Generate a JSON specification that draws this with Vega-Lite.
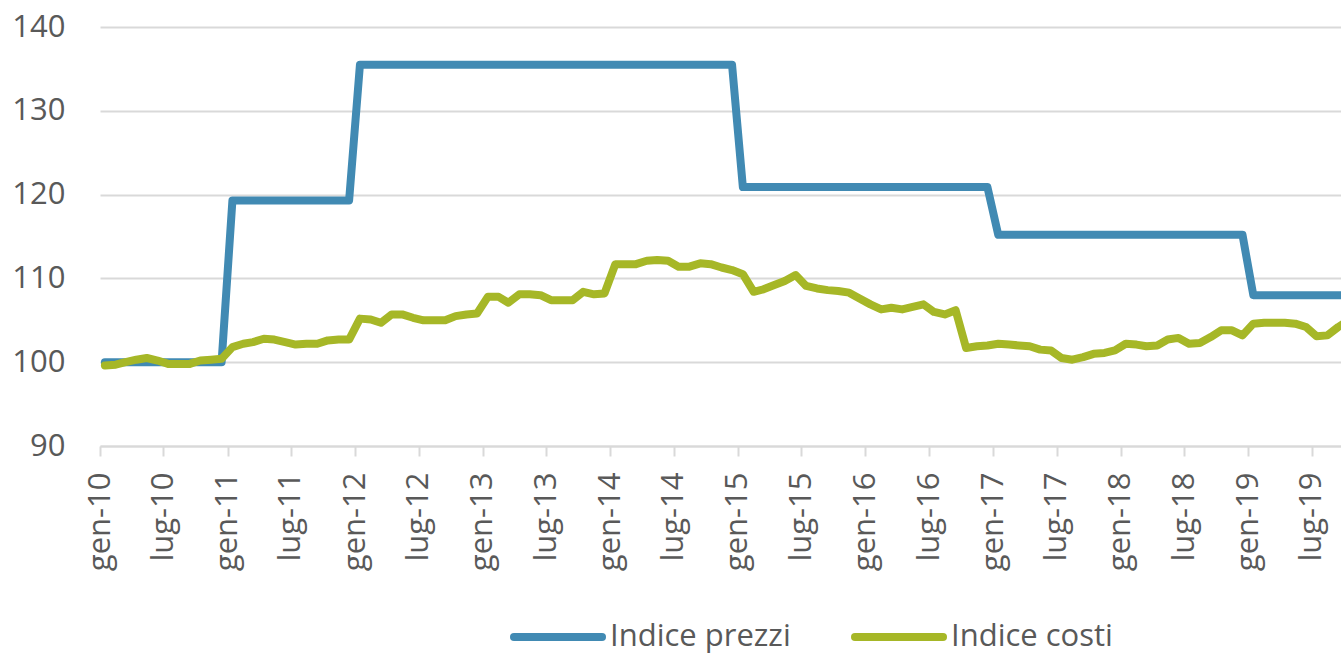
{
  "$schema": "https://vega.github.io/schema/vega-lite/v6.json",
  "width": 1241,
  "height": 419,
  "autosize": "none",
  "padding": {"left": 100, "top": 27, "right": 0, "bottom": 209},
  "config": {"view": {"stroke": null}, "font": "Open Sans"},
  "data": {"values": [
    {"d":"2010-01-15","Indice prezzi":100,"Indice costi":99.6},
    {"d":"2010-02-15","Indice prezzi":100,"Indice costi":99.7},
    {"d":"2010-03-15","Indice prezzi":100,"Indice costi":100.0},
    {"d":"2010-04-15","Indice prezzi":100,"Indice costi":100.3},
    {"d":"2010-05-15","Indice prezzi":100,"Indice costi":100.5},
    {"d":"2010-06-15","Indice prezzi":100,"Indice costi":100.2},
    {"d":"2010-07-15","Indice prezzi":100,"Indice costi":99.8},
    {"d":"2010-08-15","Indice prezzi":100,"Indice costi":99.8},
    {"d":"2010-09-15","Indice prezzi":100,"Indice costi":99.8},
    {"d":"2010-10-15","Indice prezzi":100,"Indice costi":100.2},
    {"d":"2010-11-15","Indice prezzi":100,"Indice costi":100.3},
    {"d":"2010-12-15","Indice prezzi":100,"Indice costi":100.4},
    {"d":"2011-01-15","Indice prezzi":119.3,"Indice costi":101.8},
    {"d":"2011-02-15","Indice prezzi":119.3,"Indice costi":102.2},
    {"d":"2011-03-15","Indice prezzi":119.3,"Indice costi":102.4},
    {"d":"2011-04-15","Indice prezzi":119.3,"Indice costi":102.8},
    {"d":"2011-05-15","Indice prezzi":119.3,"Indice costi":102.7},
    {"d":"2011-06-15","Indice prezzi":119.3,"Indice costi":102.4},
    {"d":"2011-07-15","Indice prezzi":119.3,"Indice costi":102.1},
    {"d":"2011-08-15","Indice prezzi":119.3,"Indice costi":102.2},
    {"d":"2011-09-15","Indice prezzi":119.3,"Indice costi":102.2},
    {"d":"2011-10-15","Indice prezzi":119.3,"Indice costi":102.6},
    {"d":"2011-11-15","Indice prezzi":119.3,"Indice costi":102.7},
    {"d":"2011-12-15","Indice prezzi":119.3,"Indice costi":102.7},
    {"d":"2012-01-15","Indice prezzi":135.5,"Indice costi":105.2},
    {"d":"2012-02-15","Indice prezzi":135.5,"Indice costi":105.1},
    {"d":"2012-03-15","Indice prezzi":135.5,"Indice costi":104.7},
    {"d":"2012-04-15","Indice prezzi":135.5,"Indice costi":105.7},
    {"d":"2012-05-15","Indice prezzi":135.5,"Indice costi":105.7},
    {"d":"2012-06-15","Indice prezzi":135.5,"Indice costi":105.3},
    {"d":"2012-07-15","Indice prezzi":135.5,"Indice costi":105.0},
    {"d":"2012-08-15","Indice prezzi":135.5,"Indice costi":105.0},
    {"d":"2012-09-15","Indice prezzi":135.5,"Indice costi":105.0},
    {"d":"2012-10-15","Indice prezzi":135.5,"Indice costi":105.5},
    {"d":"2012-11-15","Indice prezzi":135.5,"Indice costi":105.7},
    {"d":"2012-12-15","Indice prezzi":135.5,"Indice costi":105.8},
    {"d":"2013-01-15","Indice prezzi":135.5,"Indice costi":107.8},
    {"d":"2013-02-15","Indice prezzi":135.5,"Indice costi":107.8},
    {"d":"2013-03-15","Indice prezzi":135.5,"Indice costi":107.1},
    {"d":"2013-04-15","Indice prezzi":135.5,"Indice costi":108.1},
    {"d":"2013-05-15","Indice prezzi":135.5,"Indice costi":108.1},
    {"d":"2013-06-15","Indice prezzi":135.5,"Indice costi":108.0},
    {"d":"2013-07-15","Indice prezzi":135.5,"Indice costi":107.4},
    {"d":"2013-08-15","Indice prezzi":135.5,"Indice costi":107.4},
    {"d":"2013-09-15","Indice prezzi":135.5,"Indice costi":107.4},
    {"d":"2013-10-15","Indice prezzi":135.5,"Indice costi":108.4},
    {"d":"2013-11-15","Indice prezzi":135.5,"Indice costi":108.1},
    {"d":"2013-12-15","Indice prezzi":135.5,"Indice costi":108.2},
    {"d":"2014-01-15","Indice prezzi":135.5,"Indice costi":111.7},
    {"d":"2014-02-15","Indice prezzi":135.5,"Indice costi":111.7},
    {"d":"2014-03-15","Indice prezzi":135.5,"Indice costi":111.7},
    {"d":"2014-04-15","Indice prezzi":135.5,"Indice costi":112.1},
    {"d":"2014-05-15","Indice prezzi":135.5,"Indice costi":112.2},
    {"d":"2014-06-15","Indice prezzi":135.5,"Indice costi":112.1},
    {"d":"2014-07-15","Indice prezzi":135.5,"Indice costi":111.4},
    {"d":"2014-08-15","Indice prezzi":135.5,"Indice costi":111.4},
    {"d":"2014-09-15","Indice prezzi":135.5,"Indice costi":111.8},
    {"d":"2014-10-15","Indice prezzi":135.5,"Indice costi":111.7},
    {"d":"2014-11-15","Indice prezzi":135.5,"Indice costi":111.3},
    {"d":"2014-12-15","Indice prezzi":135.5,"Indice costi":111.0},
    {"d":"2015-01-15","Indice prezzi":120.9,"Indice costi":110.5},
    {"d":"2015-02-15","Indice prezzi":120.9,"Indice costi":108.4},
    {"d":"2015-03-15","Indice prezzi":120.9,"Indice costi":108.7},
    {"d":"2015-04-15","Indice prezzi":120.9,"Indice costi":109.2},
    {"d":"2015-05-15","Indice prezzi":120.9,"Indice costi":109.7},
    {"d":"2015-06-15","Indice prezzi":120.9,"Indice costi":110.4},
    {"d":"2015-07-15","Indice prezzi":120.9,"Indice costi":109.1},
    {"d":"2015-08-15","Indice prezzi":120.9,"Indice costi":108.8},
    {"d":"2015-09-15","Indice prezzi":120.9,"Indice costi":108.6},
    {"d":"2015-10-15","Indice prezzi":120.9,"Indice costi":108.5},
    {"d":"2015-11-15","Indice prezzi":120.9,"Indice costi":108.3},
    {"d":"2015-12-15","Indice prezzi":120.9,"Indice costi":107.6},
    {"d":"2016-01-15","Indice prezzi":120.9,"Indice costi":106.9},
    {"d":"2016-02-15","Indice prezzi":120.9,"Indice costi":106.3},
    {"d":"2016-03-15","Indice prezzi":120.9,"Indice costi":106.5},
    {"d":"2016-04-15","Indice prezzi":120.9,"Indice costi":106.3},
    {"d":"2016-05-15","Indice prezzi":120.9,"Indice costi":106.6},
    {"d":"2016-06-15","Indice prezzi":120.9,"Indice costi":106.9},
    {"d":"2016-07-15","Indice prezzi":120.9,"Indice costi":106.0},
    {"d":"2016-08-15","Indice prezzi":120.9,"Indice costi":105.7},
    {"d":"2016-09-15","Indice prezzi":120.9,"Indice costi":106.2},
    {"d":"2016-10-15","Indice prezzi":120.9,"Indice costi":101.7},
    {"d":"2016-11-15","Indice prezzi":120.9,"Indice costi":101.9},
    {"d":"2016-12-15","Indice prezzi":120.9,"Indice costi":102.0},
    {"d":"2017-01-15","Indice prezzi":115.2,"Indice costi":102.2},
    {"d":"2017-02-15","Indice prezzi":115.2,"Indice costi":102.1},
    {"d":"2017-03-15","Indice prezzi":115.2,"Indice costi":102.0},
    {"d":"2017-04-15","Indice prezzi":115.2,"Indice costi":101.9},
    {"d":"2017-05-15","Indice prezzi":115.2,"Indice costi":101.5},
    {"d":"2017-06-15","Indice prezzi":115.2,"Indice costi":101.4},
    {"d":"2017-07-15","Indice prezzi":115.2,"Indice costi":100.5},
    {"d":"2017-08-15","Indice prezzi":115.2,"Indice costi":100.3},
    {"d":"2017-09-15","Indice prezzi":115.2,"Indice costi":100.6},
    {"d":"2017-10-15","Indice prezzi":115.2,"Indice costi":101.0},
    {"d":"2017-11-15","Indice prezzi":115.2,"Indice costi":101.1},
    {"d":"2017-12-15","Indice prezzi":115.2,"Indice costi":101.4},
    {"d":"2018-01-15","Indice prezzi":115.2,"Indice costi":102.2},
    {"d":"2018-02-15","Indice prezzi":115.2,"Indice costi":102.1},
    {"d":"2018-03-15","Indice prezzi":115.2,"Indice costi":101.9},
    {"d":"2018-04-15","Indice prezzi":115.2,"Indice costi":102.0},
    {"d":"2018-05-15","Indice prezzi":115.2,"Indice costi":102.7},
    {"d":"2018-06-15","Indice prezzi":115.2,"Indice costi":102.9},
    {"d":"2018-07-15","Indice prezzi":115.2,"Indice costi":102.2},
    {"d":"2018-08-15","Indice prezzi":115.2,"Indice costi":102.3},
    {"d":"2018-09-15","Indice prezzi":115.2,"Indice costi":103.0},
    {"d":"2018-10-15","Indice prezzi":115.2,"Indice costi":103.8},
    {"d":"2018-11-15","Indice prezzi":115.2,"Indice costi":103.8},
    {"d":"2018-12-15","Indice prezzi":115.2,"Indice costi":103.2},
    {"d":"2019-01-15","Indice prezzi":108.0,"Indice costi":104.6},
    {"d":"2019-02-15","Indice prezzi":108.0,"Indice costi":104.7},
    {"d":"2019-03-15","Indice prezzi":108.0,"Indice costi":104.7},
    {"d":"2019-04-15","Indice prezzi":108.0,"Indice costi":104.7},
    {"d":"2019-05-15","Indice prezzi":108.0,"Indice costi":104.6},
    {"d":"2019-06-15","Indice prezzi":108.0,"Indice costi":104.2},
    {"d":"2019-07-15","Indice prezzi":108.0,"Indice costi":103.1},
    {"d":"2019-08-15","Indice prezzi":108.0,"Indice costi":103.2},
    {"d":"2019-09-15","Indice prezzi":108.0,"Indice costi":104.2},
    {"d":"2019-10-15","Indice prezzi":108.0,"Indice costi":105.0}
  ]},
  "transform": [{"fold": ["Indice prezzi", "Indice costi"], "as": ["serie", "valore"]}],
  "mark": {"type": "line", "strokeWidth": 8, "strokeJoin": "round", "strokeCap": "round", "clip": true},
  "encoding": {
    "x": {
      "field": "d", "type": "temporal", "title": null,
      "scale": {"type": "utc", "domain": [{"year": 2010, "month": 1, "date": 1, "utc": true}, {"year": 2019, "month": 9, "date": 23, "utc": true}]},
      "axis": {
        "tickCount": {"interval": "month", "step": 6},
        "labelExpr": "['gen','feb','mar','apr','mag','giu','lug','ago','set','ott','nov','dic'][utcmonth(datum.value)] + '-' + utcFormat(datum.value, '%y')",
        "labelAngle": -90, "labelAlign": "right", "labelBaseline": "middle",
        "labelFontSize": 31, "labelColor": "#595959", "labelPadding": 16,
        "labelFlush": false, "labelOverlap": false, "labelBound": false,
        "domainColor": "#d9d9d9", "domainWidth": 2,
        "tickColor": "#d9d9d9", "tickWidth": 2, "tickSize": 10,
        "grid": false
      }
    },
    "y": {
      "field": "valore", "type": "quantitative", "title": null,
      "scale": {"domain": [90, 140], "nice": false, "zero": false},
      "axis": {
        "values": [90, 100, 110, 120, 130, 140],
        "labelFontSize": 31, "labelColor": "#595959", "labelPadding": 35,
        "domain": false, "ticks": false,
        "gridColor": "#d9d9d9", "gridWidth": 2
      }
    },
    "color": {
      "field": "serie", "type": "nominal", "title": null,
      "scale": {"domain": ["Indice prezzi", "Indice costi"], "range": ["#418ab3", "#a6b727"]},
      "legend": {
        "orient": "none", "legendX": 410, "legendY": 562, "direction": "horizontal",
        "symbolType": "stroke", "symbolStrokeWidth": 8, "symbolSize": 7744,
        "labelFontSize": 31, "labelColor": "#595959", "labelOffset": 4, "labelLimit": 0,
        "columnPadding": 48,
        "encode": {"symbols": {"update": {"strokeCap": {"value": "round"}}}}
      }
    }
  }
}
